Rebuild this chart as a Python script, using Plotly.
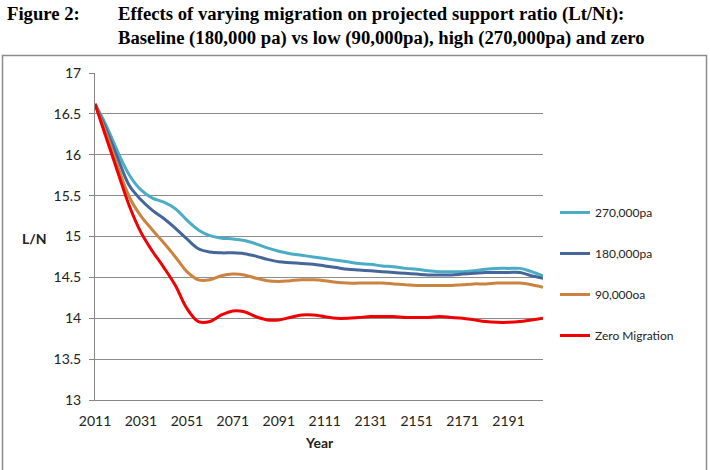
import plotly.graph_objects as go

years = list(range(2011, 2207, 5))

high_270k = [16.62, 16.35, 16.03, 15.75, 15.57, 15.47, 15.42, 15.34, 15.20, 15.08,
             15.01, 14.98, 14.97, 14.95, 14.91, 14.86, 14.82, 14.79, 14.77, 14.75,
             14.73, 14.71, 14.69, 14.67, 14.66, 14.64, 14.63, 14.61, 14.60, 14.58,
             14.57, 14.57, 14.57, 14.58, 14.60, 14.61, 14.61, 14.61, 14.57, 14.52]
base_180k = [16.62, 16.30, 15.95, 15.62, 15.45, 15.32, 15.22, 15.10, 14.97, 14.85,
             14.81, 14.80, 14.80, 14.79, 14.76, 14.72, 14.69, 14.68, 14.67, 14.66,
             14.64, 14.62, 14.60, 14.59, 14.58, 14.57, 14.56, 14.55, 14.54, 14.53,
             14.53, 14.53, 14.54, 14.55, 14.56, 14.56, 14.56, 14.56, 14.52, 14.49]
low_90k = [16.62, 16.25, 15.85, 15.48, 15.25, 15.08, 14.92, 14.75, 14.57, 14.47,
           14.47, 14.52, 14.54, 14.53, 14.49, 14.46, 14.45, 14.46, 14.47, 14.47,
           14.46, 14.44, 14.43, 14.43, 14.43, 14.43, 14.42, 14.41, 14.40, 14.40,
           14.40, 14.40, 14.41, 14.42, 14.42, 14.43, 14.43, 14.43, 14.41, 14.38]
zero_mig = [16.62, 16.20, 15.78, 15.37, 15.05, 14.82, 14.62, 14.40, 14.12, 13.96,
            13.96, 14.04, 14.09, 14.08, 14.02, 13.98, 13.98, 14.01, 14.04, 14.04,
            14.02, 14.00, 14.00, 14.01, 14.02, 14.02, 14.02, 14.01, 14.01, 14.01,
            14.02, 14.01, 14.00, 13.98, 13.96, 13.95, 13.95, 13.96, 13.98, 14.00]

series_names = ["270,000pa", "180,000pa", "90,000oa", "Zero Migration"]
series_values = [high_270k, base_180k, low_90k, zero_mig]
colors = ["#4BACC6", "#44669A", "#CC8340", "#F00000"]

x_tick_vals = list(range(2011, 2192, 20))
y_tick_vals = [13, 13.5, 14, 14.5, 15, 15.5, 16, 16.5, 17]

L, R, T, B = 95, 543, 73, 400
W, H = 710, 470

def px(x):
    return (x - L) / (R - L)

def py(y):
    return (B - y) / (B - T)

fig = go.Figure()
for i, (name, vals, c) in enumerate(zip(series_names, series_values, colors)):
    fig.add_trace(go.Scatter(
        x=years, y=vals, name=name, mode="lines",
        line=dict(color=c, width=3, shape="spline", smoothing=1),
        legendgroup=f"g{i}",
    ))

font_axis = "Lato, 'Open Sans', sans-serif"

fig.update_layout(
    width=W, height=H,
    margin=dict(l=L, r=W - R, t=T, b=H - B),
    paper_bgcolor="white", plot_bgcolor="white",
    showlegend=True,
    legend=dict(
        x=px(555), y=py(198), xanchor="left", yanchor="top",
        font=dict(family=font_axis, size=12, color="#222"),
        tracegroupgap=22, itemwidth=30, bgcolor="rgba(0,0,0,0)",
    ),
    xaxis=dict(
        range=[2011, 2206], tickvals=x_tick_vals,
        ticktext=[str(v) for v in x_tick_vals],
        showgrid=False, zeroline=False, showline=True,
        linecolor="#868686", linewidth=1,
        ticks="", ticklabelstandoff=8,
        tickfont=dict(family=font_axis, size=14, color="#222"),
    ),
    yaxis=dict(
        range=[13, 17], tickvals=y_tick_vals,
        ticktext=[f"{v:g}" for v in y_tick_vals],
        showgrid=True, gridcolor="#8C8C8C", gridwidth=1,
        zeroline=False, showline=True, linecolor="#868686", linewidth=1,
        ticks="outside", ticklen=5, tickcolor="#868686",
        ticklabelstandoff=5,
        tickfont=dict(family=font_axis, size=14, color="#222"),
    ),
    font=dict(family=font_axis),
)

title_font = dict(family="'Liberation Serif', 'Times New Roman', serif", size=18.7, color="black")
fig.add_annotation(text="<b>Figure 2:</b>", xref="paper", yref="paper",
                   x=px(5), y=py(1), xanchor="left", yanchor="top",
                   showarrow=False, font=title_font, align="left")
fig.add_annotation(text="<b>Effects of varying migration on projected support ratio (Lt/Nt):<br>"
                        "Baseline (180,000 pa) vs low (90,000pa), high (270,000pa) and zero</b>",
                   xref="paper", yref="paper", x=px(116), y=py(1),
                   xanchor="left", yanchor="top", showarrow=False,
                   font=title_font, align="left")

fig.add_annotation(text="<b>L/N</b>", xref="paper", yref="paper",
                   x=px(34), y=py(238), xanchor="center", yanchor="middle",
                   showarrow=False, font=dict(family=font_axis, size=14, color="#222"))
fig.add_annotation(text="<b>Year</b>", xref="paper", yref="paper",
                   x=px(319), y=py(442), xanchor="center", yanchor="middle",
                   showarrow=False, font=dict(family=font_axis, size=14, color="#222"))

fig.add_shape(type="rect", xref="paper", yref="paper",
              x0=px(2.5), x1=px(706.5), y0=py(480), y1=py(55.5),
              line=dict(color="#8C8C8C", width=1.5), fillcolor="rgba(0,0,0,0)",
              layer="below")

fig.write_html("out.html")
